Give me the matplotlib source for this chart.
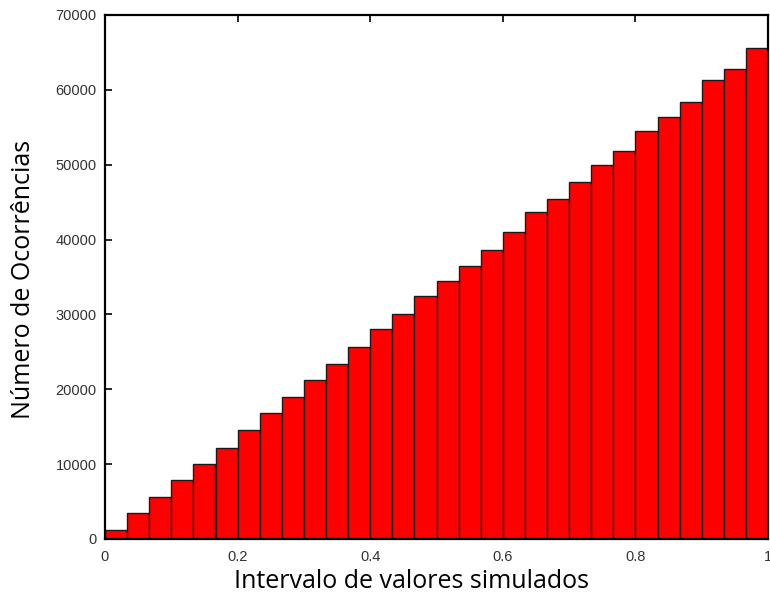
import numpy as np
import matplotlib
matplotlib.use("Agg")
import matplotlib.pyplot as plt

# Histogram: 30 bins over [0, 1]
bin_edges = np.linspace(0, 1, 31)
counts = [1200, 3450, 5600, 7870, 10000, 12130, 14530, 16800, 18930, 21200,
          23330, 25600, 28100, 30000, 32400, 34400, 36530, 38670, 41070, 43730,
          45400, 47650, 50000, 51880, 54450, 56400, 58400, 61350, 62850, 65650]
x_ticks = [0, 0.2, 0.4, 0.6, 0.8, 1]
x_tick_labels = ["0", "0.2", "0.4", "0.6", "0.8", "1"]
y_ticks = [0, 10000, 20000, 30000, 40000, 50000, 60000, 70000]
y_tick_labels = [str(v) for v in y_ticks]

fig = plt.figure(figsize=(7.7, 6.01), dpi=100)
ax = fig.add_axes([105/770, 1 - 539/601, (768 - 105)/770, (539 - 15)/601])

ax.bar(bin_edges[:-1], counts, width=np.diff(bin_edges), align='edge',
       color='#ff0000', edgecolor='#1a1a1a', linewidth=1.0, zorder=2)

ax.set_xlim(0, 1)
ax.set_ylim(0, 70000)
ax.set_xticks(x_ticks)
ax.set_xticklabels(x_tick_labels, fontsize=10.5, family='Liberation Sans', color='#333333')
ax.set_yticks(y_ticks)
ax.set_yticklabels(y_tick_labels, fontsize=10.5, family='Liberation Sans', color='#333333')
ax.tick_params(direction='in', top=True, right=True, length=5, width=1.2)
ax.tick_params(axis='x', pad=8)
ax.tick_params(axis='y', pad=6)
for s in ax.spines.values():
    s.set_linewidth(1.6)
    s.set_zorder(3)

ax.set_xlabel("Intervalo de valores simulados", fontsize=18, family='Open Sans')
ax.set_ylabel("Número de Ocorrências", fontsize=18, family='Open Sans')
ax.xaxis.set_label_coords((411 - 105) / 663, -(582 - 539) / 524)
ax.yaxis.set_label_coords(-(105 - 24) / 663, (539 - 279) / 524)
ax.xaxis.label.set_va('center')
ax.yaxis.label.set_va('center')

fig.savefig("out.png", dpi=100)
